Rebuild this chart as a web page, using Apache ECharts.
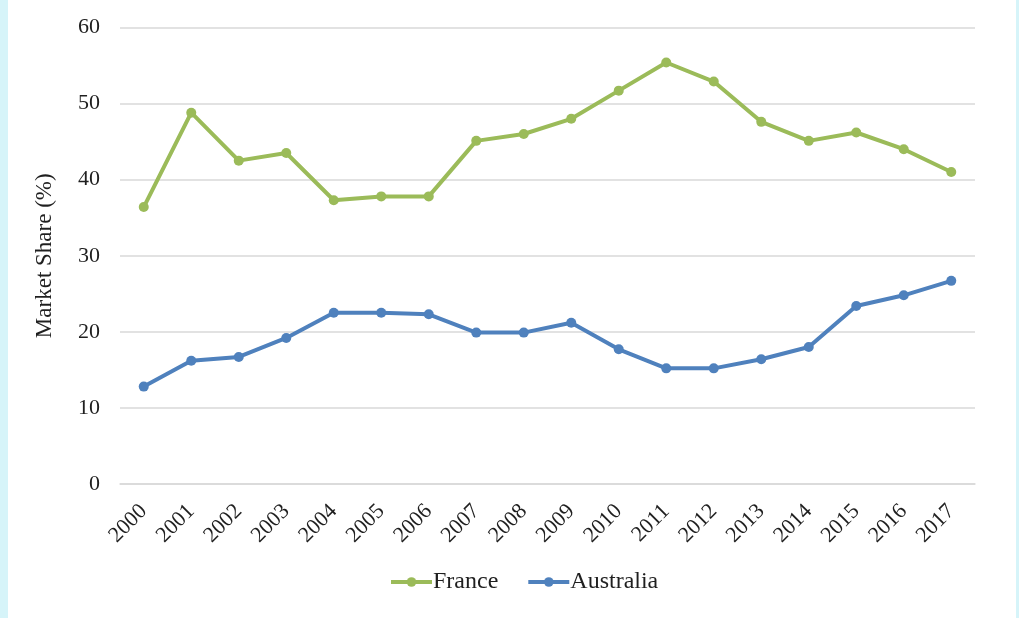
<!DOCTYPE html>
<html>
<head>
<meta charset="utf-8">
<script src="https://cdn.jsdelivr.net/npm/echarts@6/dist/echarts.min.js"></script>
<style>
html, body { margin: 0; padding: 0; width: 1019px; height: 618px; background: #d6f4f9; overflow: hidden; }
#chart { position: absolute; left: 8px; top: 0; width: 1008px; height: 618px; background: #ffffff; }
</style>
</head>
<body>
<div id="chart"></div>
<script>
var years = ['2000','2001','2002','2003','2004','2005','2006','2007','2008','2009','2010','2011','2012','2013','2014','2015','2016','2017'];
var france = [36.4, 48.8, 42.5, 43.5, 37.3, 37.8, 37.8, 45.1, 46.0, 48.0, 51.7, 55.4, 52.9, 47.6, 45.1, 46.2, 44.0, 41.0];
var australia = [12.8, 16.2, 16.7, 19.2, 22.5, 22.5, 22.3, 19.9, 19.9, 21.2, 17.7, 15.2, 15.2, 16.4, 18.0, 23.4, 24.8, 26.7];
var yTicks = { min: 0, max: 60, interval: 10 };
var font = '"Liberation Serif", "Times New Roman", serif';

var chart = echarts.init(document.getElementById('chart'), null, { renderer: 'canvas' });
chart.setOption({
  animation: false,
  backgroundColor: '#ffffff',
  textStyle: { fontFamily: font },
  grid: { left: 112, right: 41, top: 27.5, bottom: 134, containLabel: false },
  legend: {
    data: ['France', 'Australia'],
    left: 376,
    bottom: 19,
    itemWidth: 41,
    itemHeight: 12,
    itemGap: 28,
    lineStyle: { width: 4 },
    textStyle: { fontFamily: font, fontSize: 24, color: '#1f1f1f', padding: [0, 0, 0, -4] }
  },
  xAxis: {
    type: 'category',
    data: years,
    boundaryGap: true,
    axisLine: { show: true, lineStyle: { color: '#d9d9d9', width: 1.5 } },
    axisTick: { show: false },
    axisLabel: { rotate: 45, margin: 24, fontFamily: font, fontSize: 22, color: '#1f1f1f' }
  },
  yAxis: {
    type: 'value',
    min: yTicks.min, max: yTicks.max, interval: yTicks.interval,
    name: 'Market Share (%)',
    nameLocation: 'middle',
    nameGap: 64,
    nameTextStyle: { fontFamily: font, fontSize: 23, color: '#1f1f1f' },
    axisLine: { show: false },
    axisTick: { show: false },
    axisLabel: { margin: 20, fontFamily: font, fontSize: 22, color: '#1f1f1f' },
    splitLine: { lineStyle: { color: '#d9d9d9', width: 1.5 } }
  },
  series: [
    {
      name: 'France', type: 'line', data: france,
      color: '#9bbb59',
      symbol: 'circle', symbolSize: 10,
      lineStyle: { width: 4, color: '#9bbb59' },
      itemStyle: { color: '#9bbb59' }
    },
    {
      name: 'Australia', type: 'line', data: australia,
      color: '#4f81bd',
      symbol: 'circle', symbolSize: 10,
      lineStyle: { width: 4, color: '#4f81bd' },
      itemStyle: { color: '#4f81bd' }
    }
  ]
});
</script>
</body>
</html>
